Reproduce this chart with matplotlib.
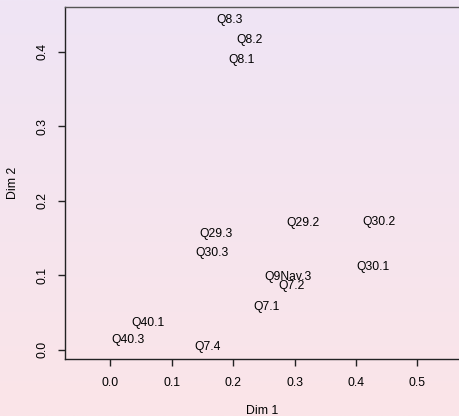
import numpy as np
import matplotlib
matplotlib.use("Agg")
import matplotlib.pyplot as plt
from matplotlib.ticker import MultipleLocator

plt.rcParams['font.family'] = ['Liberation Sans', 'DejaVu Sans']

# correspondence analysis coordinates of the questionnaire items
labels = ['Q8.3', 'Q8.2', 'Q8.1', 'Q29.2', 'Q30.2', 'Q29.3', 'Q30.3', 'Q30.1',
          'Q9Nav.3', 'Q7.2', 'Q7.1', 'Q40.1', 'Q40.3', 'Q7.4']
dim1 = [0.194, 0.226, 0.213, 0.313, 0.437, 0.172, 0.166, 0.428,
        0.289, 0.295, 0.255, 0.062, 0.028, 0.159]
dim2 = [0.443, 0.416, 0.389, 0.1705, 0.1714, 0.1557, 0.1294, 0.1114,
        0.098, 0.0859, 0.0577, 0.0354, 0.013, 0.004]

W, H = 459, 416
fig = plt.figure(figsize=(W / 100, H / 100), dpi=100)

# soft lavender-to-pink background
bg = fig.add_axes([0, 0, 1, 1], zorder=-10)
top = np.array([239, 229, 245]) / 255
bot = np.array([251, 228, 232]) / 255
t = np.linspace(0, 1, 256)[:, None]
grad = (top[None, :] * (1 - t) + bot[None, :] * t)[:, None, :]
bg.imshow(grad, aspect='auto', extent=[0, 1, 0, 1])
bg.axis('off')

left, right, ytop, ybot = 64.7, 459.5, 6.7, 359.3
ax = fig.add_axes([left / W, 1 - ybot / H, (right - left) / W, (ybot - ytop) / H])
ax.patch.set_alpha(0)

for x, y, s in zip(dim1, dim2, labels):
    ax.text(x, y, s, ha='center', va='center', fontsize=8.7)

ax.set_xlim(-0.0743, 0.5687)
ax.set_ylim(-0.0129, 0.4604)
ax.xaxis.set_major_locator(MultipleLocator(0.1))
ax.yaxis.set_major_locator(MultipleLocator(0.1))
ax.set_xticks([0.0, 0.1, 0.2, 0.3, 0.4, 0.5])
ax.set_yticks([0.0, 0.1, 0.2, 0.3, 0.4])
ax.set_xticklabels(['0.0', '0.1', '0.2', '0.3', '0.4', '0.5'])
ax.set_yticklabels(['0.0', '0.1', '0.2', '0.3', '0.4'], rotation=90, va='center')
ax.tick_params(axis='x', direction='out', length=5, width=1, pad=7.5, labelsize=8.8, color='#222222')
ax.tick_params(axis='y', direction='out', length=5, width=1, pad=6.5, labelsize=8.8, color='#222222')

for sp in ['left', 'bottom', 'top']:
    ax.spines[sp].set_color('#222222')
    ax.spines[sp].set_linewidth(1)
ax.spines['right'].set_visible(False)
ax.spines['top'].set_color('#555555')

ax.set_xlabel('Dim 1', fontsize=8.8, va='center')
ax.xaxis.set_label_coords(0.5, (ybot - 411) / (ybot - ytop))
ax.set_ylabel('Dim 2', fontsize=8.8, va='center')
ax.yaxis.set_label_coords((13.3 - left) / (right - left), 0.5)

fig.savefig('out.png', dpi=100)
